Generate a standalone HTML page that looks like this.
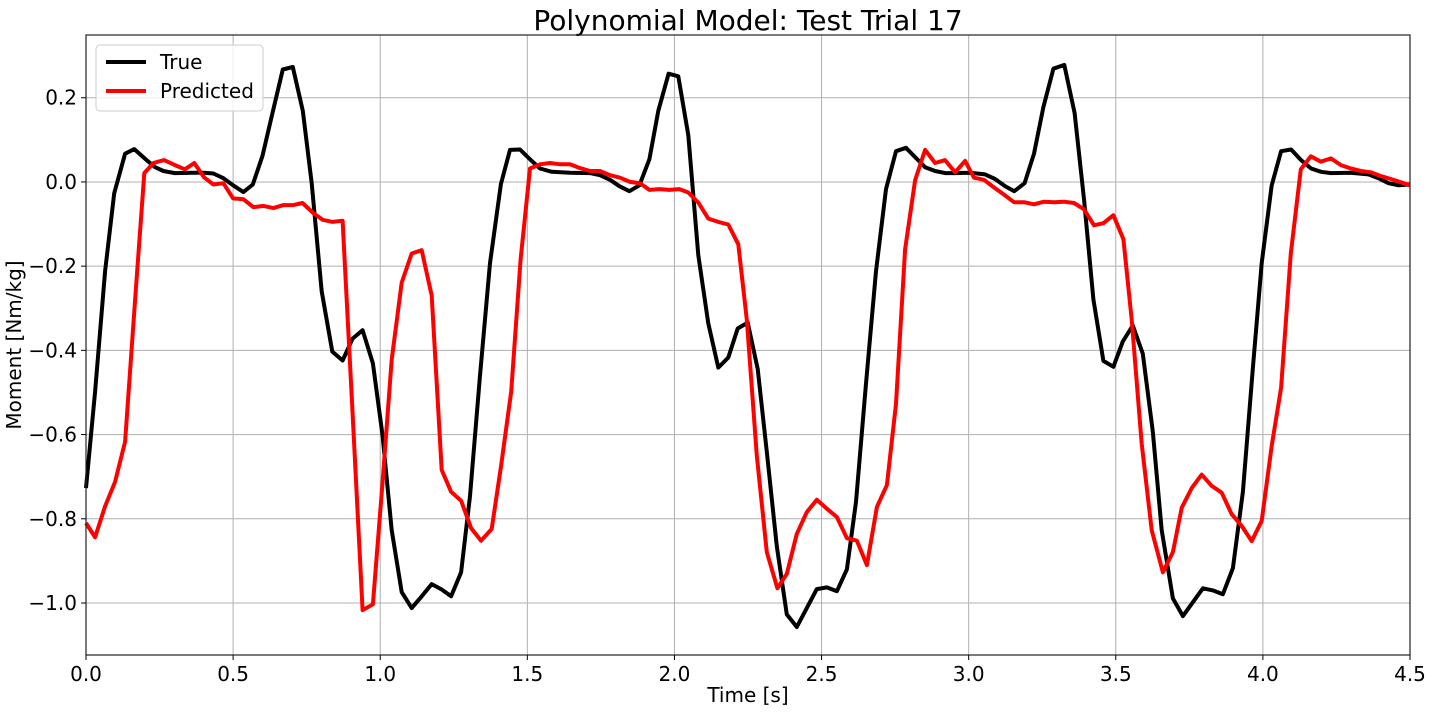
<!DOCTYPE html>
<html><head><meta charset="utf-8">
<style>
html,body{margin:0;padding:0;background:#fff;}
svg{display:block;font-family:"DejaVu Sans","Liberation Sans",sans-serif;}
</style></head>
<body>
<svg id="chart" width="1432" height="712" xmlns="http://www.w3.org/2000/svg">
<text x="748" y="30" font-size="28" text-anchor="middle" fill="#000">Polynomial Model: Test Trial 17</text>
<g id="grid"></g>
<g id="series"></g>
<rect x="86" y="35" width="1324" height="620" fill="none" stroke="#222" stroke-width="1.2"/>
<g id="ticks"></g>
<text x="748" y="702" font-size="20" text-anchor="middle">Time [s]</text>
<text transform="translate(21,345) rotate(-90)" font-size="20" text-anchor="middle">Moment [Nm/kg]</text>
<g>
<rect x="96" y="45" width="167" height="66" rx="4" fill="#fff" fill-opacity="0.8" stroke="#ccc"/>
<line x1="106" y1="62" x2="146" y2="62" stroke="#000" stroke-width="4"/>
<text x="160" y="69" font-size="20">True</text>
<line x1="106" y1="91" x2="146" y2="91" stroke="#f00" stroke-width="4"/>
<text x="160" y="98" font-size="20">Predicted</text>
</g>
</svg>
<script>
const xTicks=[0,0.5,1.0,1.5,2.0,2.5,3.0,3.5,4.0,4.5];
const xTickLabels=["0.0","0.5","1.0","1.5","2.0","2.5","3.0","3.5","4.0","4.5"];
const yTicks=[0.2,0.0,-0.2,-0.4,-0.6,-0.8,-1.0];
const yTickLabels=["0.2","0.0","\u22120.2","\u22120.4","\u22120.6","\u22120.8","\u22121.0"];
const tTrue=[0,0.031,0.065,0.096,0.133,0.164,0.206,0.235,0.263,0.302,0.365,0.40,0.433,0.467,0.50,0.535,0.567,0.60,0.634,0.669,0.703,0.737,0.767,0.801,0.837,0.872,0.906,0.94,0.975,1.008,1.039,1.073,1.107,1.141,1.175,1.209,1.241,1.275,1.305,1.339,1.373,1.41,1.441,1.475,1.515,1.543,1.583,1.645,1.713,1.747,1.781,1.813,1.847,1.881,1.915,1.945,1.98,2.013,2.047,2.081,2.115,2.149,2.183,2.215,2.249,2.283,2.314,2.348,2.382,2.416,2.45,2.484,2.518,2.552,2.586,2.617,2.651,2.685,2.719,2.753,2.787,2.818,2.852,2.886,2.92,2.954,2.999,3.016,3.056,3.09,3.124,3.155,3.19,3.222,3.254,3.288,3.325,3.36,3.392,3.424,3.458,3.492,3.524,3.558,3.592,3.626,3.656,3.694,3.728,3.762,3.796,3.83,3.864,3.898,3.932,3.966,3.996,4.03,4.062,4.096,4.13,4.164,4.198,4.232,4.297,4.359,4.393,4.427,4.461,4.5];
const vTrue=[-0.727,-0.498,-0.212,-0.027,0.067,0.078,0.052,0.035,0.026,0.021,0.022,0.022,0.02,0.009,-0.008,-0.024,-0.006,0.062,0.164,0.267,0.273,0.169,-0.003,-0.26,-0.403,-0.424,-0.372,-0.352,-0.431,-0.603,-0.827,-0.974,-1.012,-0.984,-0.955,-0.968,-0.984,-0.927,-0.746,-0.46,-0.193,-0.005,0.076,0.077,0.05,0.032,0.024,0.022,0.021,0.016,0.005,-0.01,-0.022,-0.008,0.054,0.169,0.257,0.251,0.111,-0.174,-0.336,-0.441,-0.417,-0.348,-0.334,-0.444,-0.641,-0.865,-1.027,-1.057,-1.012,-0.967,-0.963,-0.972,-0.92,-0.76,-0.479,-0.212,-0.017,0.073,0.081,0.059,0.035,0.026,0.021,0.021,0.022,0.021,0.018,0.007,-0.01,-0.022,-0.003,0.067,0.178,0.269,0.278,0.164,-0.041,-0.279,-0.425,-0.439,-0.379,-0.341,-0.408,-0.593,-0.827,-0.989,-1.031,-0.998,-0.965,-0.97,-0.979,-0.917,-0.736,-0.441,-0.193,-0.008,0.073,0.077,0.052,0.032,0.024,0.021,0.022,0.018,0.009,-0.003,-0.008,-0.006];
const tPred=[0,0.031,0.065,0.099,0.133,0.167,0.198,0.229,0.265,0.302,0.336,0.368,0.401,0.433,0.467,0.50,0.535,0.569,0.603,0.637,0.671,0.705,0.736,0.773,0.804,0.838,0.872,0.906,0.94,0.975,1.008,1.039,1.073,1.107,1.141,1.175,1.209,1.241,1.275,1.309,1.343,1.379,1.411,1.445,1.477,1.509,1.543,1.577,1.611,1.645,1.679,1.713,1.747,1.781,1.815,1.849,1.883,1.915,1.949,1.983,2.017,2.047,2.081,2.115,2.149,2.183,2.217,2.246,2.28,2.314,2.35,2.382,2.416,2.45,2.484,2.518,2.552,2.586,2.62,2.654,2.688,2.722,2.753,2.784,2.818,2.852,2.886,2.92,2.954,2.988,3.018,3.052,3.084,3.12,3.154,3.188,3.222,3.256,3.29,3.324,3.358,3.392,3.426,3.458,3.492,3.526,3.554,3.588,3.622,3.66,3.694,3.724,3.758,3.792,3.826,3.86,3.894,3.928,3.962,3.996,4.03,4.062,4.095,4.129,4.163,4.197,4.231,4.265,4.299,4.333,4.367,4.401,4.435,4.5];
const vPred=[-0.81,-0.844,-0.77,-0.712,-0.617,-0.28,0.021,0.045,0.052,0.04,0.03,0.045,0.011,-0.006,-0.003,-0.039,-0.041,-0.06,-0.057,-0.062,-0.055,-0.055,-0.05,-0.074,-0.09,-0.095,-0.092,-0.55,-1.017,-1.003,-0.712,-0.422,-0.239,-0.17,-0.162,-0.27,-0.684,-0.736,-0.757,-0.822,-0.852,-0.824,-0.674,-0.498,-0.184,0.032,0.042,0.045,0.042,0.042,0.033,0.026,0.026,0.016,0.01,0,-0.003,-0.019,-0.017,-0.019,-0.017,-0.025,-0.049,-0.087,-0.095,-0.101,-0.148,-0.327,-0.65,-0.879,-0.965,-0.931,-0.836,-0.784,-0.755,-0.776,-0.796,-0.846,-0.852,-0.91,-0.772,-0.72,-0.527,-0.16,0.004,0.076,0.045,0.052,0.023,0.05,0.01,0.005,-0.012,-0.03,-0.048,-0.048,-0.053,-0.047,-0.048,-0.047,-0.05,-0.065,-0.103,-0.098,-0.079,-0.136,-0.327,-0.622,-0.827,-0.927,-0.879,-0.774,-0.727,-0.695,-0.722,-0.738,-0.789,-0.817,-0.853,-0.805,-0.627,-0.489,-0.17,0.03,0.061,0.048,0.056,0.04,0.032,0.026,0.023,0.014,0.007,-0.008];

const L=86,R=1410,T=35,B=655,XMIN=0,XMAX=4.5,YMIN=-1.1235,YMAX=0.349;
const NS="http://www.w3.org/2000/svg";
function xs(t){return L+(t-XMIN)/(XMAX-XMIN)*(R-L);}
function ys(v){return B-(v-YMIN)/(YMAX-YMIN)*(B-T);}
function mk(tag,attrs,parent){const e=document.createElementNS(NS,tag);for(const k in attrs)e.setAttribute(k,attrs[k]);parent.appendChild(e);return e;}
const grid=document.getElementById('grid'),ticks=document.getElementById('ticks'),series=document.getElementById('series');
xTicks.forEach((t,i)=>{
  const g=mk('line',{x1:xs(t),x2:xs(t),y1:T,y2:B,stroke:'#b0b0b0','stroke-width':1},grid);
  
  
  const tk=mk('line',{x1:xs(t),x2:xs(t),y1:B,y2:B+5,stroke:'#000','stroke-width':1},ticks);
  
  
  const lb=mk('text',{x:xs(t),y:B+26,'font-size':20,'text-anchor':'middle'},ticks);
  lb.textContent=xTickLabels[i];
  
  
});
yTicks.forEach((v,i)=>{
  const g=mk('line',{x1:L,x2:R,y1:ys(v),y2:ys(v),stroke:'#b0b0b0','stroke-width':1},grid);
  
  
  const tk=mk('line',{x1:L-5,x2:L,y1:ys(v),y2:ys(v),stroke:'#000','stroke-width':1},ticks);
  
  
  const lb=mk('text',{x:L-9,y:ys(v)+7,'font-size':20,'text-anchor':'end'},ticks);
  lb.textContent=yTickLabels[i];
  
  
});
function pts(ts,vs){return ts.map((t,i)=>xs(t).toFixed(1)+','+ys(vs[i]).toFixed(1)).join(' ');}
const lt=mk('polyline',{points:pts(tTrue,vTrue),fill:'none',stroke:'#000','stroke-width':4,'stroke-linejoin':'round'},series);


const lp=mk('polyline',{points:pts(tPred,vPred),fill:'none',stroke:'#f00','stroke-width':4,'stroke-linejoin':'round'},series);


</script>
</body></html>
